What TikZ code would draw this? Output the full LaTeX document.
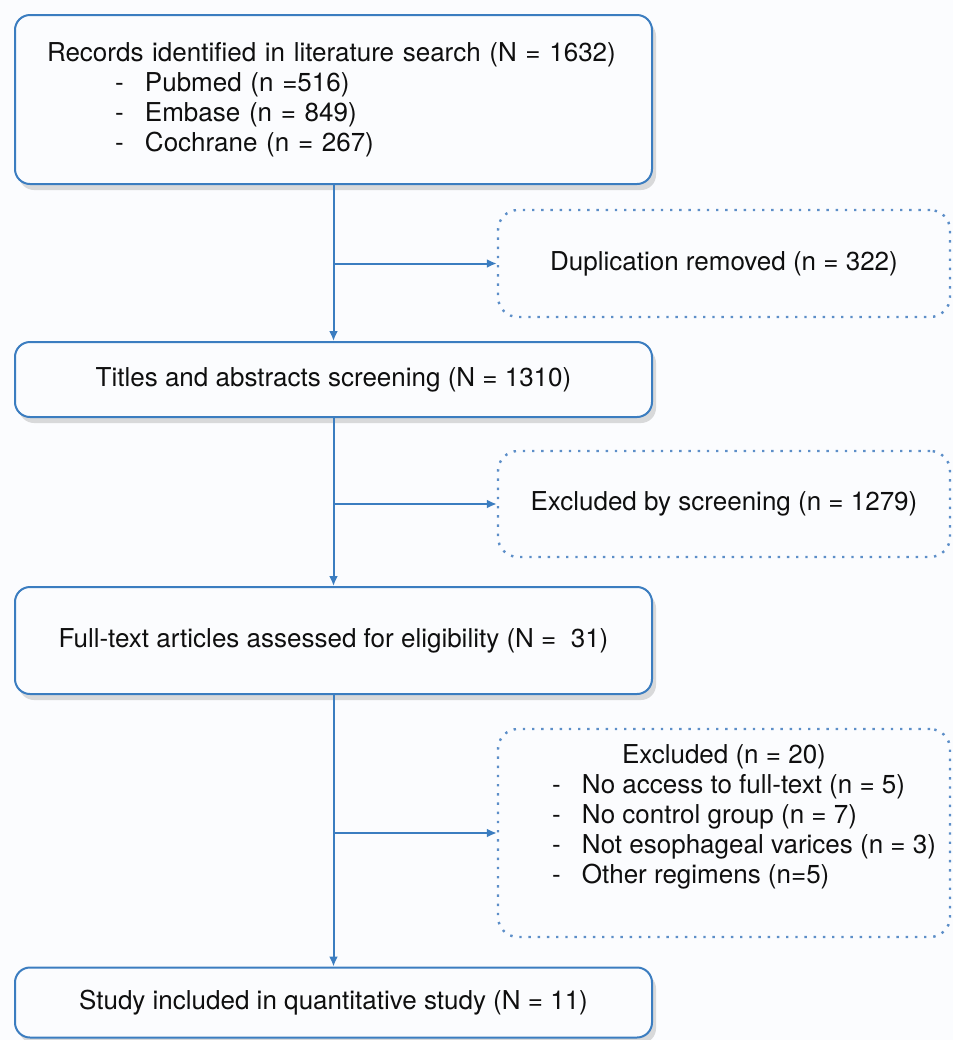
\documentclass[tikz,border=0pt]{standalone}
\usepackage{fontspec}
\setmainfont{TeX Gyre Heros}
\usetikzlibrary{arrows.meta,shadows}
\definecolor{flowblue}{RGB}{59,125,192}
\definecolor{dotblue}{RGB}{92,142,200}
\definecolor{pagebg}{RGB}{251,252,254}
\definecolor{inkgray}{RGB}{15,15,15}
\newcommand{\dashitem}[1]{\makebox[15pt][l]{-}#1}

\begin{document}
\begin{tikzpicture}[x=0.5pt, y=-0.5pt,
		font=\fontsize{13}{15}\selectfont, text=inkgray,
		mainbox/.style={draw=flowblue, line width=1pt, rounded corners=7.5pt, fill=pagebg,
			minimum width=318.5pt, drop shadow={shadow xshift=2pt, shadow yshift=-3pt, opacity=0.28}},
		exbox/.style={draw=dotblue, line width=1.2pt, dash pattern=on 1.2pt off 3.4pt,
			rounded corners=10pt, minimum width=226pt},
		arr/.style={draw=flowblue, line width=1pt, -{Latex[length=5pt,width=4.5pt]}}
		]
	\path[use as bounding box, fill=pagebg] (0,0) rectangle (953,1040);

	\node [mainbox, align=left, text width=286.5pt, inner xsep=16pt, minimum height=84.5pt] (rec) at (333.5,99.5)
		{Records identified in literature search (N = 1632)\\
		 \hspace*{34pt}\dashitem{Pubmed (n =516)}\\
		 \hspace*{34pt}\dashitem{Embase (n = 849)}\\
		 \hspace*{34pt}\dashitem{Cochrane (n = 267)}};
	\node [exbox, minimum height=53.5pt] (dup) at (724,263.5) {Duplication removed (n = 322)};
	\node [mainbox, minimum height=37.5pt] (scr) at (333.5,379.5) {Titles and abstracts screening (N = 1310)};
	\node [exbox, minimum height=53pt] (exscr) at (724,504) {Excluded by screening (n = 1279)};
	\node [mainbox, minimum height=53.5pt] (full) at (333.5,640.5) {Full-text articles assessed for eligibility (N = \ 31)};
	\node [exbox, minimum height=104pt] (exfull) at (724,833)
		{\begin{tabular}{@{\hspace{20pt}}l@{}}
		 \multicolumn{1}{c}{Excluded (n = 20)}\\
		 \dashitem{No access to full-text (n = 5)}\\
		 \dashitem{No control group (n = 7)}\\
		 \dashitem{Not esophageal varices (n = 3)}\\
		 \dashitem{Other regimens (n=5)}\\[16pt]
		 \end{tabular}};
	\node [mainbox, minimum height=35pt] (final) at (333.5,1002.5) {Study included in quantitative study (N = 11)};

	\draw[arr] (rec) -- (scr);
	\draw[arr] (rec.south |- dup.west) -- (dup.west);
	\draw[arr] (scr) -- (full);
	\draw[arr] (scr.south |- exscr.west) -- (exscr.west);
	\draw[arr] (full) -- (final);
	\draw[arr] (full.south |- exfull.west) -- (exfull.west);
\end{tikzpicture}
\end{document}
